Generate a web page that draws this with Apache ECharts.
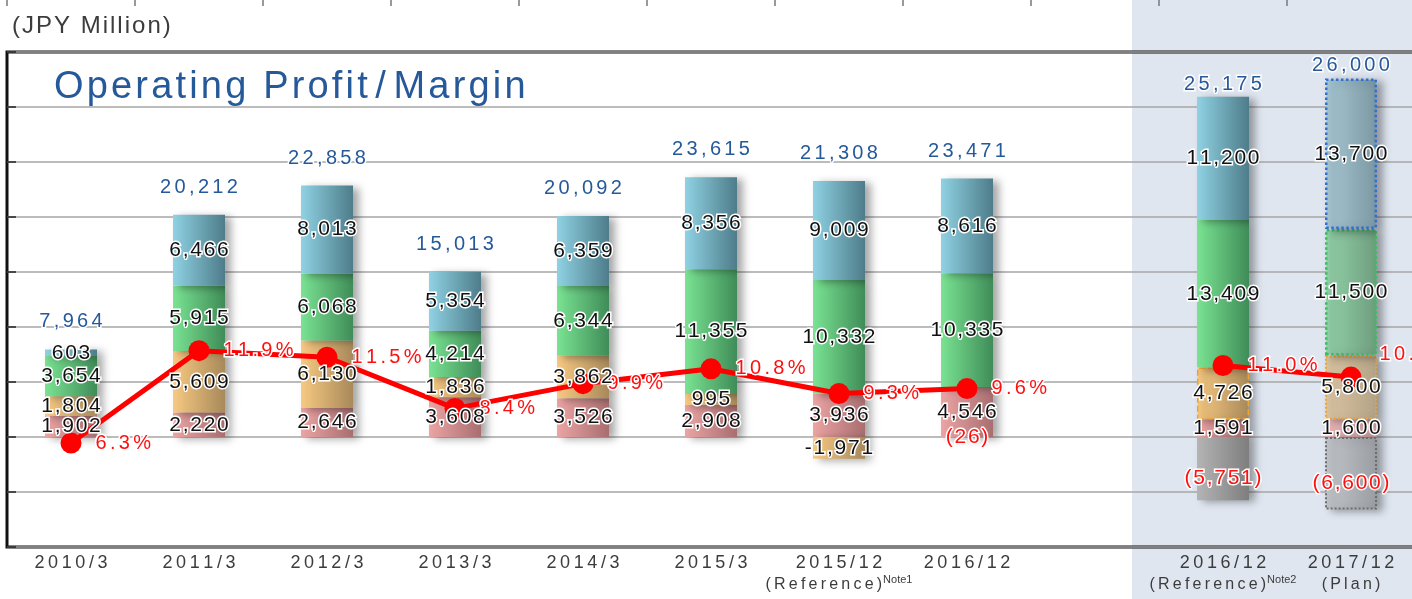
<!DOCTYPE html>
<html>
<head>
<meta charset="utf-8">
<title>Operating Profit / Margin</title>
<script src="https://cdn.jsdelivr.net/npm/echarts@6/dist/echarts.min.js"></script>
<style>
html, body { margin: 0; padding: 0; background: #fff; }
#opChart { width: 1412px; height: 599px; }
</style>
</head>
<body>
<div id="opChart"></div>
<script>
// categories: index 8 is an empty spacer, index 11 lies past the right edge
var periods = ["2010/3", "2011/3", "2012/3", "2013/3", "2014/3", "2015/3", "2015/12", "2016/12", "", "2016/12", "2017/12", ""];
var periodNotes = ["", "", "", "", "", "", "(Reference)", "", "", "(Reference)", "(Plan)", ""];
var noteMarks = ["", "", "", "", "", "", "Note1", "", "", "Note2", "", ""];

// stacked segments, bottom to top (JPY Million)
var segRed = [1902, 2220, 2646, 3608, 3526, 2908, 3936, 4546, "-", 1591, 1600, "-"];
var segOrange = [1804, 5609, 6130, 1836, 3862, 995, -1971, -26, "-", 4726, 5800, "-"];
var segGreen = [3654, 5915, 6068, 4214, 6344, 11355, 10332, 10335, "-", 13409, 11500, "-"];
var segBlue = [603, 6466, 8013, 5354, 6359, 8356, 9009, 8616, "-", 11200, 13700, "-"];
var segGray = ["-", "-", "-", "-", "-", "-", "-", "-", "-", -5751, -6600, "-"];
var totals = [7964, 20212, 22858, 15013, 20092, 23615, 21308, 23471, "-", 25175, 26000, "-"];
// operating margin (%)
var margins = [6.3, 11.9, 11.5, 8.4, 9.9, 10.8, 9.3, 9.6, "-", 11.0, 10.3, "-"];

var refIdx = 9;
var planIdx = 10;
var FONT = "'Liberation Sans', Arial, sans-serif";
var HAIR = "\u200A";
var THIN = "\u2009";

// letter spacing helper (narrow spaces between characters)
function sp(s, ch) {
  return String(s).split("").join(ch || HAIR);
}
function fmt(v) {
  return Math.abs(v).toLocaleString("en-US");
}
function grad(c1, c2) {
  return new echarts.graphic.LinearGradient(0, 0, 1, 0, [
    { offset: 0, color: c1 },
    { offset: 1, color: c2 }
  ]);
}

var segColors = {
  red: grad("#eca4a4", "#a86e70"),
  orange: grad("#f7c982", "#a8895a"),
  green: grad("#7ae392", "#3f8c58"),
  blue: grad("#8fd2e3", "#4e7c8a"),
  gray: grad("#b4b4b4", "#7e7e7e")
};
var planStyle = {
  red: { color: grad("#e6b2b4", "#c49a9c") },
  orange: { color: grad("#dcc6a4", "#b3a286"), borderColor: "#f0a430", borderWidth: 2, borderType: "dotted" },
  green: { color: grad("#94d4aa", "#6e9c7e"), borderColor: "#33c25a", borderWidth: 2.5, borderType: "dotted" },
  blue: { color: grad("#a8c9d6", "#7b97a2"), borderColor: "#2f70d2", borderWidth: 2.5, borderType: "dotted" },
  gray: { color: grad("#c2c6ca", "#9a9ea3"), borderColor: "#6e6e6e", borderWidth: 2, borderType: "dotted" }
};

function buildData(vals, key) {
  return vals.map(function (v, i) {
    if (v === "-") return v;
    if (i === planIdx) return { value: v, itemStyle: planStyle[key] };
    if (i === refIdx && key === "orange") {
      return { value: v, itemStyle: { borderColor: "#f0a430", borderWidth: 1.5, borderType: "dashed" } };
    }
    return v;
  });
}

// top of the positive stack, where the total label sits
var stackTop = totals.map(function (t, i) {
  if (t === "-") return "-";
  var top = [segRed, segOrange, segGreen, segBlue, segGray].reduce(function (s, arr) {
    var v = arr[i];
    return v !== "-" && v > 0 ? s + v : s;
  }, 0);
  // right-hand panel has its totals sitting closer to the bar
  return i >= refIdx ? { value: top, label: { distance: 2 } } : top;
});

var segLabel = {
  show: true,
  position: "inside",
  fontFamily: FONT,
  fontSize: 21,
  color: "#111",
  textBorderColor: "#fff",
  textBorderWidth: 3,
  formatter: function (p) {
    var v = p.value;
    if (p.seriesName === "gray" || (v < 0 && Math.abs(v) < 100)) {
      return "{neg|" + sp("(" + fmt(v) + ")") + "}";
    }
    return sp((v < 0 ? "-" : "") + fmt(v));
  },
  rich: {
    neg: { color: "#ff1010", fontFamily: FONT, fontSize: 21, textBorderColor: "#fff", textBorderWidth: 3 }
  }
};

// visible stacked bars (no labels, drawn under the margin line)
function segSeries(name, vals) {
  return {
    name: name,
    type: "bar",
    stack: "op",
    barWidth: 52,
    z: 2,
    data: buildData(vals, name),
    itemStyle: {
      color: segColors[name],
      shadowBlur: 8,
      shadowColor: "rgba(0,0,0,0.35)",
      shadowOffsetX: 6,
      shadowOffsetY: 2
    }
  };
}
// transparent copy of the stack that only carries the value labels, above the line
function labelSeries(name, vals) {
  return {
    name: name,
    type: "bar",
    stack: "lab",
    barWidth: 52,
    barGap: "-100%",
    z: 4,
    silent: true,
    data: vals,
    itemStyle: { color: "rgba(0,0,0,0)" },
    label: name === "gray" ? Object.assign({}, segLabel, { offset: [0, 10] }) : segLabel
  };
}

var myChart = echarts.init(document.getElementById("opChart"));
var option = {
  animation: false,
  title: [
    {
      text: sp("(JPY Million)"),
      left: 12,
      top: 14,
      padding: 0,
      textStyle: { fontFamily: FONT, fontSize: 24, fontWeight: "normal", color: "#3c3c3c" }
    },
    {
      text: sp("Operating Profit") + THIN + "/" + THIN + sp("Margin"),
      left: 54,
      top: 69,
      padding: 0,
      textStyle: { fontFamily: FONT, fontSize: 38, fontWeight: "normal", color: "#25599a" }
    }
  ],
  graphic: [
    {
      type: "rect",
      z: -10,
      silent: true,
      shape: { x: 1132, y: 0, width: 300, height: 599 },
      style: { fill: "#dfe6f0" }
    }
  ],
  grid: [
    {
      left: 7, top: 52, width: 1536, height: 495,
      outerBoundsMode: "none",
      show: true, borderColor: "#111", borderWidth: 3
    },
    { left: 7, top: -30, width: 1536, height: 30, outerBoundsMode: "none" }
  ],
  xAxis: [
    {
      type: "category",
      gridIndex: 0,
      data: periods,
      axisLine: { show: false },
      axisTick: { show: false },
      axisLabel: {
        interval: 0,
        margin: 6,
        formatter: function (val, idx) {
          var s = "{a|" + sp(val, THIN) + "}";
          if (periodNotes[idx]) {
            s += "\n{b|" + sp(periodNotes[idx], THIN) + "}";
            if (noteMarks[idx]) s += "{sup|" + noteMarks[idx] + "}";
          }
          return s;
        },
        rich: {
          a: { fontFamily: FONT, fontSize: 18, color: "#3c3c3c", lineHeight: 21 },
          b: { fontFamily: FONT, fontSize: 16, color: "#3c3c3c", lineHeight: 21 },
          sup: { fontFamily: FONT, fontSize: 11, color: "#3c3c3c", lineHeight: 21, verticalAlign: "top", padding: [0, 0, 8, 1] }
        }
      }
    },
    {
      type: "category",
      gridIndex: 1,
      data: periods,
      axisLine: { show: false },
      axisTick: { show: true, length: 6, lineStyle: { color: "#7a7a7a", width: 1.5 } },
      axisLabel: { show: false }
    }
  ],
  yAxis: [
    {
      type: "value",
      gridIndex: 0,
      min: -10000,
      max: 35000,
      interval: 5000,
      axisLine: { show: false },
      axisTick: { show: true, inside: true, length: 9, lineStyle: { color: "#222", width: 1.5 } },
      axisLabel: { show: false },
      splitLine: { lineStyle: { color: "#a6a6a6", width: 1.5 } }
    },
    {
      type: "value",
      gridIndex: 0,
      min: 0,
      max: 30,
      show: false,
      splitLine: { show: false }
    },
    { type: "value", gridIndex: 1, show: false }
  ],
  series: [
    segSeries("red", segRed),
    segSeries("orange", segOrange),
    segSeries("green", segGreen),
    segSeries("blue", segBlue),
    segSeries("gray", segGray),
    labelSeries("red", segRed),
    labelSeries("orange", segOrange),
    labelSeries("green", segGreen),
    labelSeries("blue", segBlue),
    labelSeries("gray", segGray),
    {
      name: "margin",
      type: "line",
      yAxisIndex: 1,
      z: 3,
      data: margins.map(function (v, i) {
        return i === planIdx ? { value: v, label: { offset: [4, -23] } } : v;
      }),
      connectNulls: false,
      symbol: "circle",
      symbolSize: 21,
      itemStyle: { color: "#ff0000" },
      lineStyle: { color: "#ff0000", width: 5 },
      label: {
        show: true,
        position: "right",
        distance: 14,
        fontFamily: FONT,
        fontSize: 20,
        color: "#ff1010",
        textBorderColor: "#fff",
        textBorderWidth: 3,
        formatter: function (p) {
          return sp(p.value.toFixed(1) + "%", HAIR + HAIR);
        }
      }
    },
    {
      name: "total",
      type: "scatter",
      z: 5,
      data: stackTop,
      symbolSize: 1,
      itemStyle: { color: "rgba(0,0,0,0)", opacity: 1 },
      label: {
        show: true,
        position: "top",
        distance: 17,
        fontFamily: FONT,
        fontSize: 20,
        color: "#25599a",
        textBorderColor: "#fff",
        textBorderWidth: 3,
        formatter: function (p) {
          return sp(totals[p.dataIndex].toLocaleString("en-US"), HAIR + HAIR);
        }
      }
    }
  ]
};
myChart.setOption(option);
</script>
</body>
</html>
